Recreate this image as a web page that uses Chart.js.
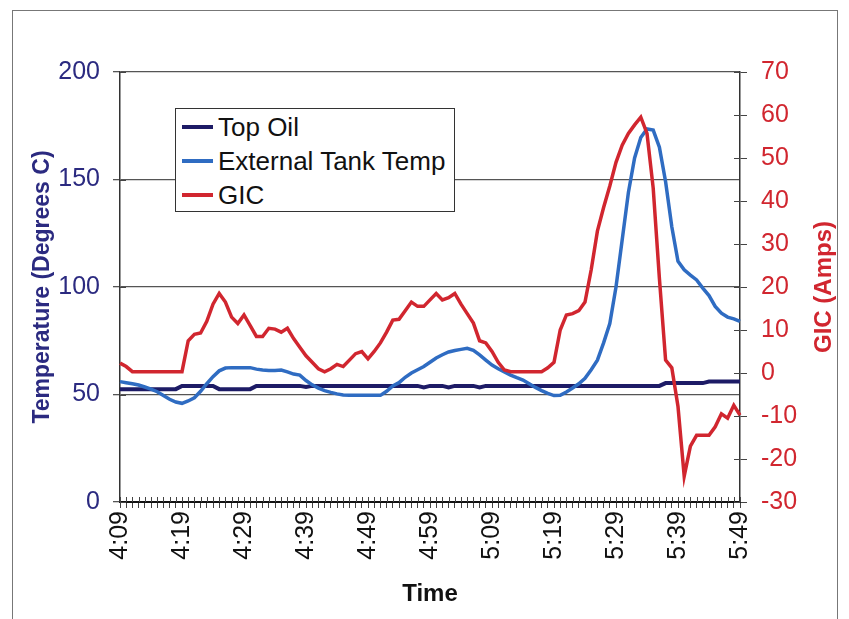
<!DOCTYPE html>
<html>
<head>
<meta charset="utf-8">
<script src="https://cdn.jsdelivr.net/npm/chart.js@4"></script>
<style>
  body { margin: 0; background: #fff; }
  #wrap { position: relative; width: 849px; height: 619px; overflow: hidden; font-family: 'Liberation Sans', Arial, sans-serif; }
  #frame { position: absolute; left: 12px; top: 10px; width: 826px; height: 640px; border: 1px solid #777; box-sizing: border-box; }
  #legend { position: absolute; left: 175px; top: 108px; width: 280px; height: 104px; border: 1.5px solid #333; background: #fff; box-sizing: border-box; padding-top: 1px; }
  .row { height: 34px; display: flex; align-items: center; font-size: 26px; color: #111; }
  .swatch { width: 31px; height: 4px; margin-left: 6px; margin-right: 5px; }
  canvas { position: absolute; left: 0; top: 0; }
</style>
</head>
<body>
<div id="wrap">
  <div id="frame"></div>
  <canvas id="myChart" width="849" height="619"></canvas>
  <div id="legend"></div>
</div>
<script>
// time axis, one point per minute
let times = ['4:09','4:10','4:11','4:12','4:13','4:14','4:15','4:16','4:17','4:18',
  '4:19','4:20','4:21','4:22','4:23','4:24','4:25','4:26','4:27','4:28',
  '4:29','4:30','4:31','4:32','4:33','4:34','4:35','4:36','4:37','4:38',
  '4:39','4:40','4:41','4:42','4:43','4:44','4:45','4:46','4:47','4:48',
  '4:49','4:50','4:51','4:52','4:53','4:54','4:55','4:56','4:57','4:58',
  '4:59','5:00','5:01','5:02','5:03','5:04','5:05','5:06','5:07','5:08',
  '5:09','5:10','5:11','5:12','5:13','5:14','5:15','5:16','5:17','5:18',
  '5:19','5:20','5:21','5:22','5:23','5:24','5:25','5:26','5:27','5:28',
  '5:29','5:30','5:31','5:32','5:33','5:34','5:35','5:36','5:37','5:38',
  '5:39','5:40','5:41','5:42','5:43','5:44','5:45','5:46','5:47','5:48',
  '5:49']
let shownTimes = ['4:09','4:19','4:29','4:39','4:49','4:59','5:09','5:19','5:29','5:39','5:49']

// temperatures (left axis)
let topOil = [52.5,52.5,52.5,52.5,52.5,52.5,52.5,52.5,52.5,52.5,
  54,54,54,54,54,54,52.5,52.5,52.5,52.5,
  52.5,52.5,54,54,54,54,54,54,54,54,
  53.5,54,54,54,54,54,54,54,54,54,
  54,54,54,54,54,54,54,54,54,53.3,
  54,54,54,53.3,54,54,54,54,53.3,54,
  54,54,54,54,54,54,54,54,54,54,
  54,54,54,54,54,54,54,54,54,54,
  54,54,54,54,54,54,54,54,55.3,55.3,
  55.3,55.3,55.3,55.3,55.3,56,56,56,56,56,
  56]
let extTank = [56,55.5,55,54.4,53.5,52.5,51.3,49.5,47.8,46.5,
  45.9,47,48.5,51.5,55,58.3,61,62.3,62.5,62.5,
  62.5,62.5,61.8,61.4,61.2,61.2,61.4,60.5,59.5,59,
  56.5,54.5,53,51.8,51,50.3,49.8,49.6,49.6,49.6,
  49.6,49.6,49.6,51.5,54,55.5,58,60,61.5,63,
  65,67,68.5,69.8,70.5,71,71.5,70.5,68.4,66,
  63.7,62,60.5,59,57.8,56.7,55,53.3,51.8,50.5,
  49.5,49.6,51.2,53,55,57.5,61.5,66,74,83,
  100,122,144,160,169.5,173.5,173,165,149,128,
  112,108,105.5,103.3,99.5,96,91,87.8,86,85.2,
  84]
// GIC amps (right axis)
let gic = [2.3,1.5,0.3,0.3,0.3,0.3,0.3,0.3,0.3,0.3,
  0.3,7.5,9,9.3,12,16,18.5,16.5,13,11.5,
  13.5,11,8.5,8.5,10.4,10.2,9.5,10.4,8,6,
  4,2.5,1,0.3,1,2,1.5,3,4.5,5,
  3.3,5,7,9.5,12.3,12.5,14.5,16.5,15.5,15.5,
  17,18.5,17,17.5,18.5,16,13.8,11.6,7.5,7,
  5,2.5,0.7,0.3,0.3,0.3,0.3,0.3,0.3,1.2,
  2.5,10,13.5,13.8,14.5,16.5,24,33,38.5,43.5,
  49,53,55.7,57.7,59.5,55.7,43,22,3,1.2,
  -7.8,-24,-17,-14.5,-14.5,-14.5,-12.5,-9.5,-10.5,-7.5,
  -9.8]

let navy = '#1d1b66'
let blue = '#2f6cc2'
let red = '#d1262f'
let fontFam = "'Liberation Sans', Arial, sans-serif"

// small ticks reaching into the plot area, like the original axes
const innerTicks = {
  id: 'innerTicks',
  afterDraw(chart) {
    const ctx = chart.ctx
    const a = chart.chartArea
    ctx.save()
    ctx.strokeStyle = '#444'
    ctx.lineWidth = 1
    const x = chart.scales.x
    x.ticks.forEach((t, i) => {
      const px = Math.round(x.getPixelForTick(i)) + 0.5
      ctx.beginPath(); ctx.moveTo(px, a.bottom); ctx.lineTo(px, a.bottom - 5); ctx.stroke()
    })
    const yl = chart.scales.y
    yl.ticks.forEach((t, i) => {
      const py = Math.round(yl.getPixelForTick(i)) + 0.5
      ctx.beginPath(); ctx.moveTo(a.left, py); ctx.lineTo(a.left + 6, py); ctx.stroke()
    })
    const yr = chart.scales.y1
    yr.ticks.forEach((t, i) => {
      const py = Math.round(yr.getPixelForTick(i)) + 0.5
      ctx.beginPath(); ctx.moveTo(a.right, py); ctx.lineTo(a.right - 6, py); ctx.stroke()
    })
    // right axis title reads bottom to top
    ctx.translate(yr.right - 25, (yr.top + yr.bottom) / 2)
    ctx.rotate(-Math.PI / 2)
    ctx.fillStyle = red
    ctx.font = 'bold 24px ' + fontFam
    ctx.textAlign = 'center'
    ctx.textBaseline = 'middle'
    ctx.fillText('GIC (Amps)', 0, 0)
    ctx.restore()
  }
}

const ctx = document.getElementById('myChart')

let chart = new Chart(ctx, {
  type: 'line',
  data: {
    labels: times,
    datasets: [
      { label: 'Top Oil', data: topOil, borderColor: navy, borderWidth: 4, yAxisID: 'y', order: 3 },
      { label: 'External Tank Temp', data: extTank, borderColor: blue, borderWidth: 3.5, yAxisID: 'y', order: 2 },
      { label: 'GIC', data: gic, borderColor: red, borderWidth: 3.5, yAxisID: 'y1', order: 1 }
    ]
  },
  options: {
    responsive: false,
    animation: false,
    devicePixelRatio: 1,
    elements: { point: { radius: 0 }, line: { tension: 0 } },
    layout: { padding: { top: 72, left: 0, right: 0, bottom: 0 } },
    plugins: { legend: { display: false }, tooltip: { enabled: false } },
    scales: {
      x: {
        afterFit: s => { s.height = 117 },
        grid: { drawOnChartArea: false, tickLength: 6, color: '#444' },
        border: { color: '#111', width: 2 },
        ticks: {
          autoSkip: false, minRotation: 90, maxRotation: 90, padding: 3,
          color: '#111', font: { size: 25, family: fontFam },
          callback: function (v, i) {
            let t = times[i]
            return shownTimes.includes(t) ? t : ''
          }
        },
        title: { display: true, text: 'Time', color: '#111', font: { size: 24, weight: 'bold', family: fontFam }, padding: { top: 0, bottom: 10 } }
      },
      y: {
        position: 'left',
        min: 0, max: 200,
        afterFit: s => { s.width = 120 },
        grid: { color: '#555', lineWidth: 1.3, tickLength: 7 },
        border: { color: '#333', width: 1.5 },
        ticks: { stepSize: 50, padding: 13, color: '#2b2a80', font: { size: 25, family: fontFam } },
        title: { display: true, text: 'Temperature (Degrees C)', color: '#2b2a80', font: { size: 23, weight: 'bold', family: fontFam }, padding: { top: 29, bottom: 0 } }
      },
      y1: {
        position: 'right',
        min: -30, max: 70,
        afterFit: s => { s.width = 109 },
        grid: { drawOnChartArea: false, color: '#444', tickLength: 7 },
        border: { color: '#333', width: 1.5 },
        ticks: { stepSize: 10, padding: 14, color: red, font: { size: 25, family: fontFam } }
      }
    }
  },
  plugins: [innerTicks]
})

// legend box built from the datasets
let legendBox = document.getElementById('legend')
chart.data.datasets.forEach(ds => {
  let row = document.createElement('div')
  row.className = 'row'
  row.innerHTML = '<span class="swatch" style="background:' + ds.borderColor + '"></span>' + ds.label
  legendBox.appendChild(row)
})
</script>
</body>
</html>
